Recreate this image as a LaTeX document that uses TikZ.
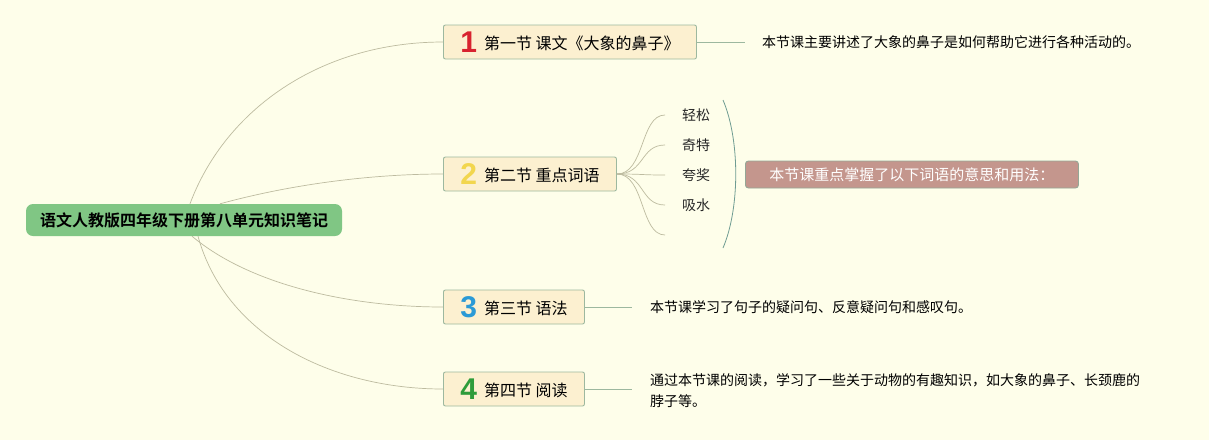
\documentclass[tikz,border=0pt]{standalone}
\usepackage{fontspec}
\setmainfont{Noto Sans CJK SC}[BoldFont={Noto Sans CJK SC Bold}]
\newfontfamily\numfont{Liberation Sans}
\usetikzlibrary{positioning, calc}
\definecolor{paper}{HTML}{FEFEEA}
\definecolor{rootgreen}{HTML}{80C684}
\definecolor{secfill}{HTML}{FCF0D0}
\definecolor{secedge}{HTML}{9DB89F}
\definecolor{linkc}{HTML}{BDBBA0}
\definecolor{bracec}{HTML}{6F9C92}
\definecolor{notefill}{HTML}{C4968D}
\definecolor{nred}{HTML}{D8232F}
\definecolor{nyellow}{HTML}{F2D64E}
\definecolor{nblue}{HTML}{2B9AD6}
\definecolor{ngreen}{HTML}{2E9C3A}
\newcommand\secnum[2]{\raisebox{-3pt}{\numfont\fontsize{30}{30}\selectfont\bfseries\color{#1}#2}\hspace{7pt}}

\begin{document}
\begin{tikzpicture}[x=1pt, y=-1pt, font=\fontsize{14}{21}\selectfont,
  sect/.style={draw=secedge, fill=secfill, line width=0.9pt, rounded corners=2pt,
    anchor=west, minimum height=34pt, inner ysep=0pt, font=\fontsize{16}{18}\selectfont},
  link/.style={draw=linkc, line width=0.7pt},
  leaf/.style={anchor=west, inner sep=0pt, text=black!85}]
\useasboundingbox[fill=paper] (0,0) rectangle (1209,440);

% centre
\node (root) [fill=rootgreen, rounded corners=7pt, minimum width=316pt, minimum height=32pt,
  font=\fontsize{16}{18}\selectfont\bfseries] at (184,220) {语文人教版四年级下册第八单元知识笔记};

% sections
\node (s1) [sect, minimum width=253pt] at (443,42) {\secnum{nred}{1}第一节 课文《大象的鼻子》};
\node (s2) [sect, minimum width=173pt] at (443,174) {\secnum{nyellow}{2}第二节 重点词语};
\node (s3) [sect, minimum width=141pt] at (443,307) {\secnum{nblue}{3}第三节 语法};
\node (s4) [sect, minimum width=141pt] at (443,389) {\secnum{ngreen}{4}第四节 阅读};

\draw[link] ($(root.north)+(6,0)$) .. controls (225,110) and (320,42) .. (s1.west);
\draw[link] ($(root.north)+(36,0)$) .. controls (300,182) and (380,174) .. (s2.west);
\draw[link] ($(root.south)+(8,0)$) .. controls (250,285) and (350,307) .. (s3.west);
\draw[link] ($(root.south)+(14,0)$) .. controls (225,335) and (330,389) .. (s4.west);

% notes
\node (t1) [anchor=west, inner xsep=17pt] at (745,42) {本节课主要讲述了大象的鼻子是如何帮助它进行各种活动的。};
\draw[link, draw=secedge] (s1.east) -- (t1.west);
\node (t3) [anchor=west, inner xsep=18pt] at (632,307) {本节课学习了句子的疑问句、反意疑问句和感叹句。};
\draw[link, draw=secedge] (s3.east) -- (t3.west);
\node (t4) [anchor=west, inner xsep=18pt, align=left] at (632,391) {通过本节课的阅读，学习了一些关于动物的有趣知识，如大象的鼻子、长颈鹿的\\脖子等。};
\draw[link, draw=secedge] (s4.east) -- (t4.west |- s4.east);

% words of section 2
\foreach \y/\name/\word in {115/w1/轻松,145/w2/奇特,175/w3/夸奖,205/w4/吸水,235/w5/{}} {
  \coordinate (\name) at (665,\y);
  \node[leaf] at (682,\y) {\word};
  \draw[link] (s2.east) .. controls (645,174) and (640,\y) .. (\name);
}
\coordinate (b1) at (723,100);
\coordinate (b2) at (723,248);
\draw[bracec, line width=0.8pt] (b1) .. controls (740,140) and (740,208) .. (b2);
\node (note2) [anchor=west, fill=notefill, draw=secedge!70!gray, line width=0.9pt, rounded corners=3pt,
  minimum width=333pt, minimum height=27pt, inner ysep=0pt, text=white, font=\fontsize{15}{18}\selectfont]
  at (745,174.5) {本节课重点掌握了以下词语的意思和用法：};
\end{tikzpicture}
\end{document}
